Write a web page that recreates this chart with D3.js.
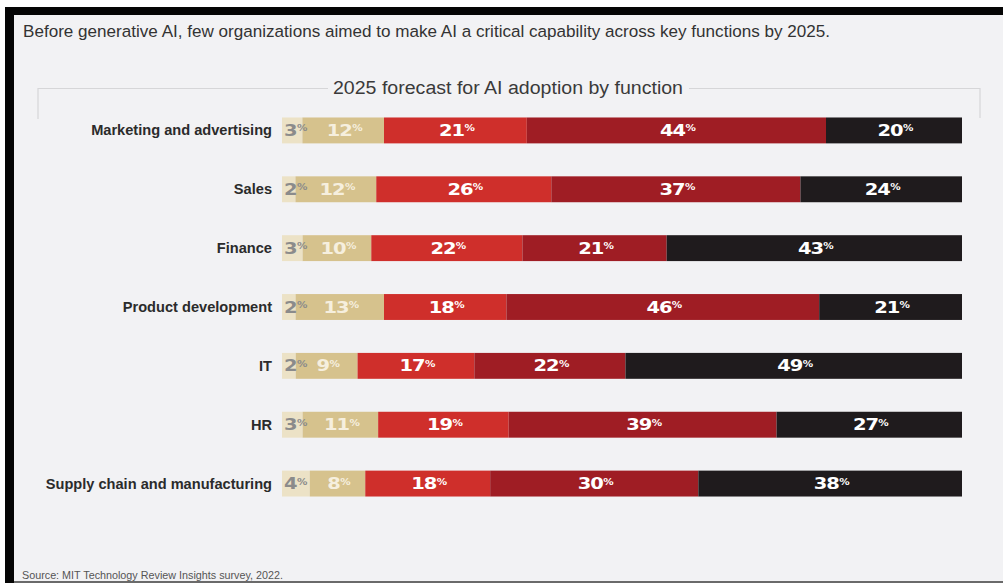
<!DOCTYPE html>
<html>
<head>
<meta charset="utf-8">
<script src="https://cdn.jsdelivr.net/npm/d3@7"></script>
<style>
  html, body { margin: 0; padding: 0; background: #ffffff; }
  svg { display: block; }
</style>
</head>
<body>
<script>
// Functions surveyed, top to bottom
const categories = [
  "Marketing and advertising",
  "Sales",
  "Finance",
  "Product development",
  "IT",
  "HR",
  "Supply chain and manufacturing"
];

// Share of respondents per adoption level, left (lowest) to right (highest)
const level1 = [3, 2, 3, 2, 2, 3, 4];
const level2 = [12, 12, 10, 13, 9, 11, 8];
const level3 = [21, 26, 22, 18, 17, 19, 18];
const level4 = [44, 37, 21, 46, 22, 39, 30];
const level5 = [20, 24, 43, 21, 49, 27, 38];

const levelKeys = ["level1", "level2", "level3", "level4", "level5"];
const levelColors = ["#ece2c6", "#d6c28d", "#cf2f2b", "#9f1d24", "#1f1b1d"];
const labelColors = ["#8b8b8b", "#fbf6ea", "#ffffff", "#ffffff", "#ffffff"];

const subtitle = "Before generative AI, few organizations aimed to make AI a critical capability across key functions by 2025.";
const chartTitle = "2025 forecast for AI adoption by function";
const sourceNote = "Source: MIT Technology Review Insights survey, 2022.";

const rows = categories.map((c, i) => ({
  category: c,
  level1: level1[i], level2: level2[i], level3: level3[i],
  level4: level4[i], level5: level5[i]
}));

const W = 1003, H = 583;
const svg = d3.select("body").append("svg").attr("width", W).attr("height", H);

// Panel and frame edges
svg.append("rect").attr("x", 0).attr("y", 0).attr("width", W).attr("height", H).attr("fill", "#ffffff");
svg.append("rect").attr("x", 5).attr("y", 7).attr("width", W - 5).attr("height", H - 7).attr("fill", "#f2f2f4");
svg.append("rect").attr("x", 5).attr("y", 7).attr("width", W - 5).attr("height", 8).attr("fill", "#050505");
svg.append("rect").attr("x", 5).attr("y", 7).attr("width", 9).attr("height", H - 7).attr("fill", "#050505");
svg.append("rect").attr("x", 14).attr("y", 581).attr("width", W - 14).attr("height", 2).attr("fill", "#6a6a6a");

const font = "'Liberation Sans', Arial, sans-serif";
const labelFont = "'DejaVu Sans', sans-serif";

svg.append("text")
  .attr("x", 23).attr("y", 37)
  .attr("font-family", font).attr("font-size", 16.3)
  .attr("textLength", 807).attr("lengthAdjust", "spacingAndGlyphs")
  .attr("fill", "#333")
  .text(subtitle);

// Title with bracket rule
const titleX = 508, titleY = 94;
svg.append("text")
  .attr("x", titleX).attr("y", titleY)
  .attr("text-anchor", "middle")
  .attr("font-family", font).attr("font-size", 18)
  .attr("textLength", 350).attr("lengthAdjust", "spacingAndGlyphs")
  .attr("fill", "#3a3a3a")
  .text(chartTitle);
const tL = titleX - 175, tR = titleX + 175;
const ruleY = 88.5, ruleL = 38, ruleR = 980;
const rule = svg.append("g").attr("stroke", "#d6d6d8").attr("stroke-width", 1.2).attr("fill", "none");
rule.append("path").attr("d", `M${ruleL},119V${ruleY}H${tL - 5}`);
rule.append("path").attr("d", `M${tR + 6},${ruleY}H${ruleR}V118`);

// Scales
const x = d3.scaleLinear().domain([0, 1]).range([282, 962]);
const y = d3.scaleBand().domain(categories).range([101, 513]).paddingInner(0.56).paddingOuter(0.28);

const stack = d3.stack().keys(levelKeys).offset(d3.stackOffsetExpand);
const series = stack(rows);

const layers = svg.append("g").selectAll("g")
  .data(series).join("g")
  .attr("fill", (d, i) => levelColors[i]);

layers.selectAll("rect")
  .data(d => d)
  .join("rect")
  .attr("x", d => x(d[0]))
  .attr("y", d => y(d.data.category))
  .attr("width", d => x(d[1]) - x(d[0]))
  .attr("height", y.bandwidth());

// Value labels (wide bold numerals with a small raised percent sign)
const sx = 1.3;
series.forEach((s, si) => {
  const g = svg.append("g")
    .attr("font-family", labelFont)
    .attr("font-weight", "bold")
    .attr("fill", labelColors[si]);
  s.forEach(d => {
    const v = d.data[s.key];
    const cy = y(d.data.category) + y.bandwidth() / 2;
    const px = si === 0 ? x(d[0]) + 2 : (x(d[0]) + x(d[1])) / 2 + 1;
    const lg = g.append("g").attr("transform", `translate(${px},${cy + 5.5}) scale(${sx},1)`);
    const t = lg.append("text")
      .attr("x", 0).attr("y", 0)
      .attr("text-anchor", si === 0 ? "start" : "middle")
      .attr("font-size", 15)
      .attr("letter-spacing", -0.8);
    if (si === 0) t.attr("font-weight", 600);
    if (si === 1) t.attr("opacity", 0.88);
    t.append("tspan").text(v);
    t.append("tspan").attr("font-size", 8).attr("dy", -4.5).attr("dx", 0.3).text("%");
  });
});

// Category labels
svg.append("g").selectAll("text")
  .data(categories).join("text")
  .attr("x", 272)
  .attr("y", d => y(d) + y.bandwidth() / 2 + 5)
  .attr("text-anchor", "end")
  .attr("font-family", font)
  .attr("font-weight", "bold")
  .attr("font-size", 14.6)
  .attr("letter-spacing", 0)
  .attr("fill", "#2b2b2b")
  .text(d => d);

svg.append("text")
  .attr("x", 22).attr("y", 578.5)
  .attr("font-family", font).attr("font-size", 11.5)
  .attr("textLength", 261).attr("lengthAdjust", "spacingAndGlyphs")
  .attr("fill", "#555")
  .text(sourceNote);
</script>
</body>
</html>
